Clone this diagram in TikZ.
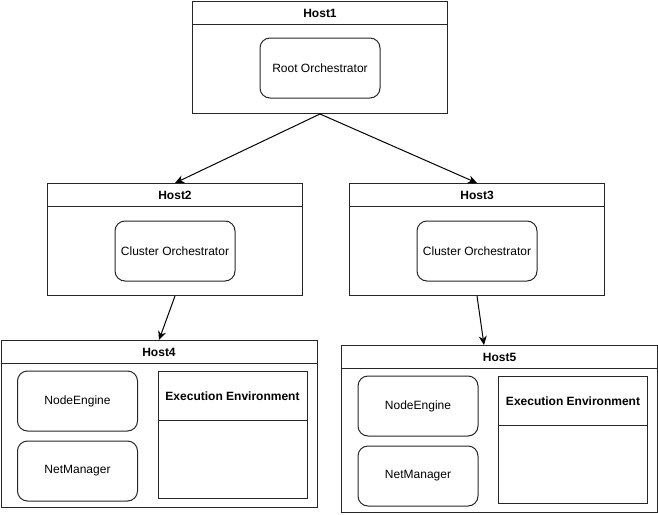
\documentclass[tikz,border=0pt]{standalone}
\usepackage{fontspec}
\setmainfont{Liberation Sans}
\usetikzlibrary{positioning,arrows.meta}
\begin{document}
\begin{tikzpicture}[
            x=1pt, y=-1pt,
            host/.style={draw=black!85, line width=1pt, minimum width=255pt, minimum height=112pt, anchor=north west, inner sep=0pt},
            bighost/.style={host, minimum width=316pt, minimum height=167pt},
            title/.style={font=\bfseries\fontsize{12}{14}\selectfont},
            proc/.style={draw=black!85, line width=1pt, rounded corners=10pt, minimum width=120pt, minimum height=60pt, font=\fontsize{12}{14}\selectfont},
            env/.style={draw=black!85, line width=1pt, minimum width=149pt, minimum height=127pt, anchor=north west, inner sep=0pt},
            sep/.style={draw=black!85, line width=1pt},
            link/.style={-{Stealth[length=9pt,width=8pt]}, line width=1pt}
        ]
        \useasboundingbox (0,0) rectangle (658,514);

        % top level
        \node[host] (host1) at (192,1) {};
        \draw[sep] ([yshift=-23pt]host1.north west) -- ([yshift=-23pt]host1.north east);
        \node[title] (host1title) at ([yshift=-12pt]host1.north) {Host1};
        \node[proc] (root) at ([yshift=-67pt]host1.north) {Root Orchestrator};

        % clusters
        \node[host] (host2) at (47,183) {};
        \draw[sep] ([yshift=-23pt]host2.north west) -- ([yshift=-23pt]host2.north east);
        \node[title] (host2title) at ([yshift=-12pt]host2.north) {Host2};
        \node[proc] (cluster2) at ([yshift=-68pt]host2.north) {Cluster Orchestrator};

        \node[host] (host3) at (349,183) {};
        \draw[sep] ([yshift=-23pt]host3.north west) -- ([yshift=-23pt]host3.north east);
        \node[title] (host3title) at ([yshift=-12pt]host3.north) {Host3};
        \node[proc] (cluster3) at ([yshift=-68pt]host3.north) {Cluster Orchestrator};

        % workers
        \node[bighost] (host4) at (0.5,340) {};
        \draw[sep] ([yshift=-23pt]host4.north west) -- ([yshift=-23pt]host4.north east);
        \node[title] (host4title) at ([yshift=-12pt]host4.north) {Host4};
        \node[proc] (engine4) at ([xshift=77pt, yshift=-61pt]host4.north west) {NodeEngine};
        \node[proc] (net4) at ([xshift=77pt, yshift=-131pt]host4.north west) {NetManager};
        \node[env] (env4) at ([xshift=157pt, yshift=-31pt]host4.north west) {};
        \draw[sep] ([yshift=-49pt]env4.north west) -- ([yshift=-49pt]env4.north east);
        \node[title] (env4title) at ([yshift=-25pt]env4.north) {Execution Environment};

        \node[bighost] (host5) at (341,345) {};
        \draw[sep] ([yshift=-23pt]host5.north west) -- ([yshift=-23pt]host5.north east);
        \node[title] (host5title) at ([yshift=-12pt]host5.north) {Host5};
        \node[proc] (engine5) at ([xshift=77pt, yshift=-61pt]host5.north west) {NodeEngine};
        \node[proc] (net5) at ([xshift=77pt, yshift=-131pt]host5.north west) {NetManager};
        \node[env] (env5) at ([xshift=157pt, yshift=-31pt]host5.north west) {};
        \draw[sep] ([yshift=-49pt]env5.north west) -- ([yshift=-49pt]env5.north east);
        \node[title] (env5title) at ([yshift=-25pt]env5.north) {Execution Environment};

        % links
        \coordinate (host5in) at (484,345);
        \draw[link] (host1.south) -- (host2.north);
        \draw[link] (host1.south) -- (host3.north);
        \draw[link] (host2.south) -- (host4.north);
        \draw[link] (host3.south) -- (host5in);
    \end{tikzpicture}
\end{document}
